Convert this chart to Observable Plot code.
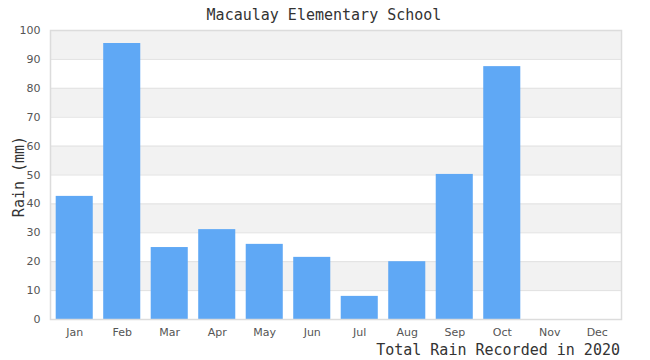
<!DOCTYPE html>
<html>
<head>
<meta charset="utf-8">
<script src="https://cdn.jsdelivr.net/npm/d3@7"></script>
<script src="https://cdn.jsdelivr.net/npm/@observablehq/plot@0.6"></script>
<style>
  html, body { margin: 0; padding: 0; background: #fff; }
  #chart svg { display: block; }
</style>
</head>
<body>
<div id="chart"></div>
<script>
const months = ["Jan","Feb","Mar","Apr","May","Jun","Jul","Aug","Sep","Oct","Nov","Dec"];
const rain = [42.6, 95.5, 24.9, 31.1, 26.0, 21.5, 8.0, 20.0, 50.2, 87.5, 0, 0];
const yTicks = [0,10,20,30,40,50,60,70,80,90,100];
const titleText = "Macaulay Elementary School";
const yLabel = "Rain (mm)";
const caption = "Total Rain Recorded in 2020";

const data = months.map((m, i) => ({month: m, rain: rain[i]}));
// shaded stripes between alternate tick pairs (10-20, 30-40, ...)
const stripes = yTicks.slice(0, -1)
  .map((t, i) => ({y1: t, y2: yTicks[i + 1], i}))
  .filter(d => d.i % 2 === 1);

const W = 650, H = 360;
const chart = Plot.plot({
  width: W,
  height: H,
  marginTop: 30,
  marginBottom: 41,
  marginLeft: 50,
  marginRight: 29,
  style: {fontFamily: "DejaVu Sans, sans-serif", fontSize: "11px", color: "#555", background: "#fff"},
  x: {type: "band", domain: months, paddingInner: 0.22, paddingOuter: 0.12, round: false, label: null},
  y: {domain: [0, 100], label: null},
  marks: [
    Plot.rectY(stripes, {y1: "y1", y2: "y2", fill: "#f2f2f2", frameAnchor: "left"}),
    Plot.gridY(yTicks, {stroke: "#e1e1e1", strokeOpacity: 1, strokeWidth: 1}),
    Plot.barY(data, {x: "month", y: "rain", fill: "#5fa8f5"}),
    Plot.frame({stroke: "#dcdcdc", strokeWidth: 1.5}),
    Plot.axisY({ticks: yTicks, tickSize: 0, tickPadding: 10, label: null, fill: "#555"}),
    Plot.axisX({tickSize: 0, tickPadding: 9, label: null, fill: "#555"})
  ]
});
document.getElementById("chart").appendChild(chart);

const svg = d3.select(chart);
const mono = "'DejaVu Sans Mono', monospace";
svg.append("text")
  .attr("x", W / 2 - 1).attr("y", 20)
  .attr("text-anchor", "middle")
  .attr("font-family", mono).attr("font-size", 15).attr("fill", "#333")
  .text(titleText);
svg.append("text")
  .attr("transform", `translate(24,${(30 + 319) / 2 + 2}) rotate(-90)`)
  .attr("text-anchor", "middle")
  .attr("font-family", mono).attr("font-size", 15).attr("fill", "#333")
  .text(yLabel);
svg.append("text")
  .attr("x", 620).attr("y", 355)
  .attr("text-anchor", "end")
  .attr("font-family", mono).attr("font-size", 15).attr("fill", "#333")
  .text(caption);
</script>
</body>
</html>
